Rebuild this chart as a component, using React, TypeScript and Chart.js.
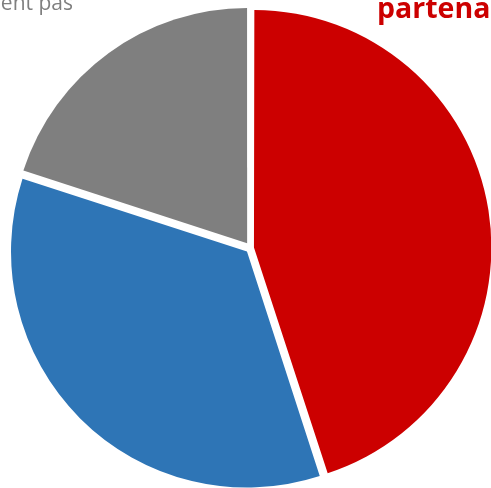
import React, { useEffect, useRef } from "react";
import { Chart, registerables } from "chart.js";

Chart.register(...registerables);

const categories = ["Connaissent les\npartenaires", "Connaissent en partie", "Ne connaissent pas"];
const values = [45, 35, 20];
const sliceColors = ["#CC0000", "#2E75B6", "#7F7F7F"];
// Chart.js arc offset is divided by 4 and scaled by slice circumference; these give ~6px shift each
const sliceOffsets = [14, 20, 23];

const labelPlugin = {
  id: "sliceLabels",
  afterDatasetsDraw(chart: any) {
    const ctx = chart.ctx;
    ctx.save();
    ctx.fillStyle = "#CC0000";
    ctx.font = "bold 28.5px 'Open Sans'";
    ctx.textAlign = "left";
    ctx.textBaseline = "alphabetic";
    const redLines = categories[0].split("\n");
    redLines.forEach((ln, i) => {
      ctx.fillText(ln, 377, 18 - (redLines.length - 1 - i) * 34);
    });
    ctx.fillStyle = "#7F7F7F";
    ctx.font = "21px 'Open Sans'";
    ctx.textAlign = "right";
    ctx.fillText(categories[2], 73, 10);
    ctx.restore();
  },
};

export default function App() {
  const ref = useRef<HTMLCanvasElement | null>(null);
  useEffect(() => {
    if (!ref.current) return;
    const chart = new Chart(ref.current, {
      type: "pie",
      data: {
        labels: categories,
        datasets: [
          {
            data: values,
            backgroundColor: sliceColors,
            borderWidth: 0,
            offset: sliceOffsets,
          },
        ],
      },
      options: {
        animation: false,
        responsive: false,
        radius: 235,
        layout: { padding: 0 },
        plugins: { legend: { display: false }, tooltip: { enabled: false } },
      } as any,
      plugins: [labelPlugin],
    });
    return () => chart.destroy();
  }, []);
  return (
    <div
      style={{
        position: "fixed",
        left: 0,
        top: 0,
        width: 491,
        height: 488,
        overflow: "hidden",
        background: "#ffffff",
      }}
    >
      <canvas
        ref={ref}
        width={501}
        height={496}
        style={{ position: "absolute", left: 0, top: 0, width: 501, height: 496, display: "block" }}
      />
    </div>
  );
}
